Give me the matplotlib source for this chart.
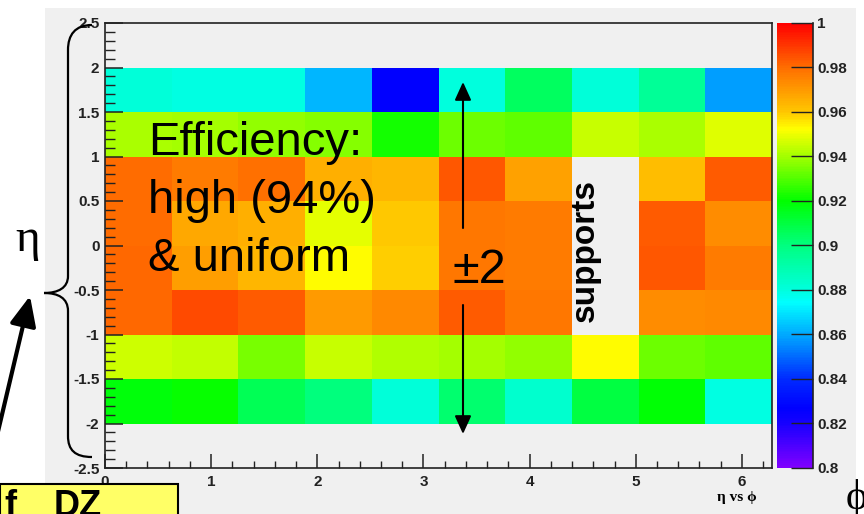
import numpy as np
import matplotlib
matplotlib.use("Agg")
import matplotlib.pyplot as plt
from matplotlib.colors import ListedColormap, hsv_to_rgb
from matplotlib.path import Path
from matplotlib.patches import PathPatch, Rectangle
from matplotlib.ticker import MultipleLocator, FuncFormatter

plt.rcParams['font.family'] = ['Liberation Sans', 'DejaVu Sans']

# bins: phi 0..2pi (10 bins), eta -2..2 (8 bins)
phi_edges = np.linspace(0, 2 * np.pi, 11)
eta_edges = np.linspace(-2.0, 2.0, 9)

# efficiency per cell, rows from eta=-1.75 up to eta=+1.75 ; nan = supports (no data)
nan = np.nan
eff_m175 = [0.918, 0.921, 0.907, 0.900, 0.881, 0.903, 0.883, 0.910, 0.919, 0.879]
eff_m125 = [0.946, 0.944, 0.935, 0.945, 0.942, 0.940, 0.938, 0.953, 0.933, 0.932]
eff_m075 = [0.981, 0.986, 0.983, 0.970, 0.974, 0.983, 0.978, nan, 0.973, 0.974]
eff_m025 = [0.981, 0.969, 0.964, 0.953, 0.959, 0.978, 0.977, nan, 0.984, 0.977]
eff_p025 = [0.980, 0.967, 0.965, 0.949, 0.960, 0.978, 0.977, nan, 0.983, 0.973]
eff_p075 = [0.980, 0.977, 0.979, 0.965, 0.964, 0.984, 0.968, nan, 0.962, 0.983]
eff_p125 = [0.941, 0.940, 0.938, 0.936, 0.922, 0.933, 0.932, 0.945, 0.941, 0.948]
eff_p175 = [0.881, 0.879, 0.879, 0.862, 0.827, 0.880, 0.905, 0.881, 0.895, 0.858]

eff = np.ma.masked_invalid(np.array([eff_m175, eff_m125, eff_m075, eff_m025,
                                     eff_p025, eff_p075, eff_p125, eff_p175]))

# ROOT-like rainbow palette, violet (0.8) -> red (1.0)
anchor_v = [0.80, 0.82, 0.84, 0.86, 0.88, 0.90, 0.92, 0.94, 0.96, 0.98, 1.00]
anchor_hue = [270, 245, 230, 200, 172, 150, 120, 82, 47, 26, 0]
vv = np.linspace(0.8, 1.0, 256)
hh = np.interp(vv, anchor_v, anchor_hue) / 360.0
hsv = np.stack([hh, np.ones_like(hh), np.ones_like(hh)], axis=1)
cmap = ListedColormap(hsv_to_rgb(hsv))

W, H = 864, 514
fig = plt.figure(figsize=(8.64, 5.14), dpi=100)
fig.patch.set_facecolor('white')

# gray panel behind the plot
bg = fig.add_axes([0, 0, 1, 1], zorder=-1)
bg.set_xlim(0, W)
bg.set_ylim(H, 0)
bg.axis('off')
bg.add_patch(Rectangle((45, 8), 811, 510, facecolor='#f0f0f0', edgecolor='none'))

ax = fig.add_axes([105 / W, 46 / H, 667 / W, 445 / H])
ax.set_facecolor('#f0f0f0')
mesh = ax.pcolormesh(phi_edges, eta_edges, eff, cmap=cmap, vmin=0.8, vmax=1.0)
ax.set_xlim(0, 2 * np.pi)
ax.set_ylim(-2.5, 2.5)

fmt = FuncFormatter(lambda v, p: '%g' % round(v, 3))
ax.xaxis.set_major_locator(MultipleLocator(1))
ax.xaxis.set_minor_locator(MultipleLocator(0.2))
ax.yaxis.set_major_locator(MultipleLocator(0.5))
ax.yaxis.set_minor_locator(MultipleLocator(0.1))
ax.xaxis.set_major_formatter(fmt)
ax.yaxis.set_major_formatter(fmt)
ax.tick_params(axis='both', which='both', direction='in', color='#222222',
               labelcolor='#222222', top=False, right=False)
ax.tick_params(axis='y', which='major', length=13, width=1.1, pad=4)
ax.tick_params(axis='y', which='minor', length=7, width=1)
ax.tick_params(axis='x', which='major', length=10, width=1.1, pad=5)
ax.tick_params(axis='x', which='minor', length=5, width=1)
for lab in ax.get_xticklabels() + ax.get_yticklabels():
    lab.set_fontweight('bold')
    lab.set_fontsize(11)
for sp in ax.spines.values():
    sp.set_color('#222222')
    sp.set_linewidth(1.2)

# colour scale
cax = fig.add_axes([777 / W, 46 / H, 36 / W, 445 / H])
cb = fig.colorbar(mesh, cax=cax)
cb.outline.set_visible(False)
cb.set_ticks(np.arange(0.8, 1.001, 0.02))
cb.ax.yaxis.set_major_formatter(fmt)
cb.ax.tick_params(direction='in', length=16, width=1, color='#222222', pad=3,
                  labelcolor='#222222')
cb.ax.minorticks_off()
for lab in cb.ax.get_yticklabels():
    lab.set_fontweight('bold')
    lab.set_fontsize(11)
cax.axvline(1, color='#222222', lw=1.2, clip_on=False)

# annotations, in pixel coordinates
ov = fig.add_axes([0, 0, 1, 1], zorder=10)
ov.set_xlim(0, W)
ov.set_ylim(H, 0)
ov.axis('off')
ov.patch.set_alpha(0)

big = 34
ov.text(148, 155, 'Efficiency:', fontsize=big, va='baseline', ha='left')
ov.text(148, 213, 'high (94%)', fontsize=big, va='baseline', ha='left')
ov.text(148, 271, '& uniform', fontsize=big, va='baseline', ha='left')
ov.text(453, 283, '±2', fontsize=big + 1, va='baseline', ha='left')

ov.annotate('', xy=(463, 82), xytext=(463, 228),
            arrowprops=dict(arrowstyle='-|>,head_length=0.55,head_width=0.25',
                            lw=1.5, color='k', mutation_scale=20, shrinkA=0, shrinkB=0))
ov.annotate('', xy=(463, 434), xytext=(463, 305),
            arrowprops=dict(arrowstyle='-|>,head_length=0.55,head_width=0.25',
                            lw=1.5, color='k', mutation_scale=20, shrinkA=0, shrinkB=0))

ov.text(585, 251, 'supports', fontsize=24, fontweight='bold', rotation=90,
        ha='center', va='center')

# eta brace on the left
verts = [(92, 25), (75, 25), (68, 35), (68, 50),
         (68, 276),
         (68, 288), (58, 293), (44, 293),
         (58, 293), (68, 298), (68, 311),
         (68, 436),
         (68, 450), (75, 457), (92, 457)]
codes = [Path.MOVETO, Path.CURVE4, Path.CURVE4, Path.CURVE4,
         Path.LINETO,
         Path.CURVE4, Path.CURVE4, Path.CURVE4,
         Path.CURVE4, Path.CURVE4, Path.CURVE4,
         Path.LINETO,
         Path.CURVE4, Path.CURVE4, Path.CURVE4]
ov.add_patch(PathPatch(Path(verts, codes), facecolor='none', edgecolor='k', lw=1.6))

ov.text(28, 240, 'η', fontsize=34, ha='center', va='center',
        family=['Liberation Serif', 'DejaVu Serif'])

ov.annotate('', xy=(30, 296), xytext=(-4, 440),
            arrowprops=dict(arrowstyle='-|>,head_length=0.9,head_width=0.4',
                            lw=3, color='k', mutation_scale=20, shrinkA=0, shrinkB=0))

# yellow box, cut by the bottom edge as in the slide
ov.add_patch(Rectangle((0, 484), 178, 40, facecolor='#ffff66', edgecolor='k', lw=1.5,
                       clip_on=False))
ov.text(4, 489, 'f', fontsize=26, fontweight='bold', ha='left', va='top')
ov.text(54, 489, 'DZ', fontsize=26, fontweight='bold', ha='left', va='top')

ov.text(737, 497, 'η vs ϕ', fontsize=11, fontweight='bold', ha='center', va='center',
        family=['Liberation Serif', 'DejaVu Serif'])
ov.text(846, 498, 'ϕ', fontsize=30, ha='left', va='center',
        family=['Liberation Serif', 'DejaVu Serif'])

plt.savefig('out.png', dpi=100)
